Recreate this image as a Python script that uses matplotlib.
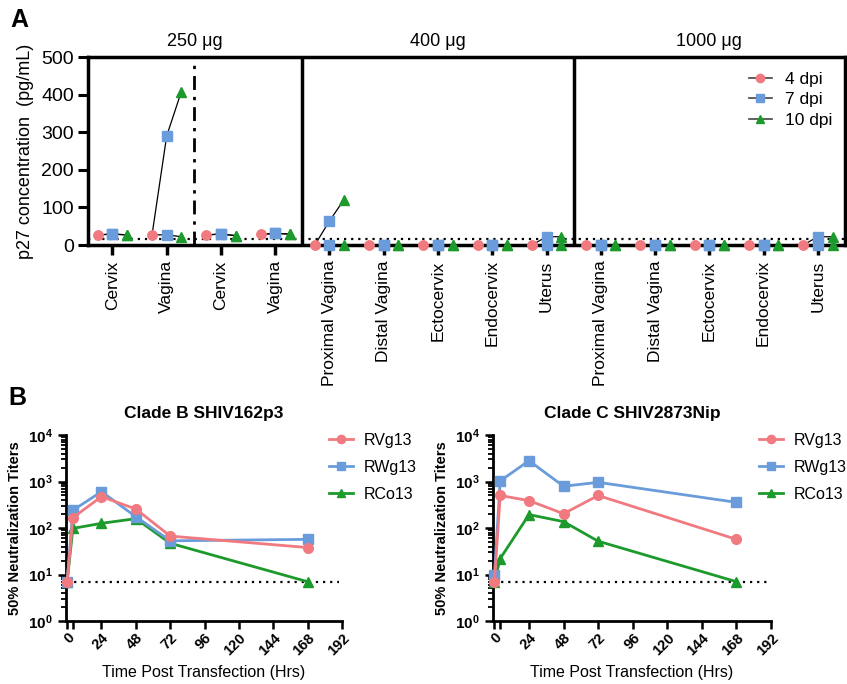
#!/usr/bin/env python
"""p27 tissue levels by dose and neutralization titers after transfection."""

import matplotlib

matplotlib.use("Agg")
import matplotlib.pyplot as plt
from matplotlib.lines import Line2D

plt.rcParams["font.family"] = ["Liberation Sans", "DejaVu Sans"]
plt.rcParams["mathtext.fontset"] = "custom"
plt.rcParams["mathtext.rm"] = "Liberation Sans"
plt.rcParams["mathtext.bf"] = "Liberation Sans:bold"

# ---- panel A data: p27 (pg/mL), two animals per tissue group ----
TISSUES = [
    "Cervix", "Vagina", "Cervix", "Vagina",
    "Proximal Vagina", "Distal Vagina", "Ectocervix", "Endocervix", "Uterus",
    "Proximal Vagina", "Distal Vagina", "Ectocervix", "Endocervix", "Uterus",
]
DOSE_LABELS = ["250 \u03bcg", "400 \u03bcg", "1000 \u03bcg"]
DOSE_EDGES = [-0.45, 3.5, 8.5, 13.5]
DPI_LABELS = ["4 dpi", "7 dpi", "10 dpi"]

ANIMAL1_4DPI = [27, 27, 27, 28, 0, 0, 0, 0, 0, 0, 0, 0, 0, 0]
ANIMAL1_7DPI = [29, 290, 29, 31, 64, 0, 0, 0, 22, 0, 0, 0, 0, 22]
ANIMAL1_10DPI = [27, 408, 25, 29, 121, 0, 0, 0, 22, 0, 0, 0, 0, 22]
ANIMAL2_4DPI = [27, 27, 27, 28, 0, 0, 0, 0, 0, 0, 0, 0, 0, 0]
ANIMAL2_7DPI = [29, 27, 29, 31, 0, 0, 0, 0, 0, 0, 0, 0, 0, 0]
ANIMAL2_10DPI = [27, 22, 25, 29, 0, 0, 0, 0, 0, 0, 0, 0, 0, 0]
P27_LOD = 15

# ---- panel B data: 50% neutralization titers ----
HOURS = [0, 4, 24, 48, 72, 168]
CONSTRUCTS = ["RVg13", "RWg13", "RCo13"]
CLADE_B_RVG13 = [7, 167, 473, 256, 67, 38]
CLADE_B_RWG13 = [7, 240, 605, 175, 53, 57]
CLADE_B_RCO13 = [7, 98, 126, 159, 47, 7]
CLADE_C_RVG13 = [7, 500, 388, 203, 500, 57]
CLADE_C_RWG13 = [10, 1030, 2800, 790, 960, 356]
CLADE_C_RCO13 = [7, 22, 194, 137, 52, 7]
TITER_LOD = 7

RED = "#f07a80"
BLUE = "#6a9cdb"
GREEN = "#1c9a2c"
COLORS = [RED, BLUE, GREEN]
MARKERS = ["o", "s", "^"]


def draw_p27(fig):
    ax = fig.add_axes([88 / 847, 1 - 245 / 684, (845 - 88) / 847, (245 - 57) / 684])
    offsets = [-0.27, 0.0, 0.27]
    animals = [
        (ANIMAL1_4DPI, ANIMAL1_7DPI, ANIMAL1_10DPI),
        (ANIMAL2_4DPI, ANIMAL2_7DPI, ANIMAL2_10DPI),
    ]
    for series in animals:
        for i in range(len(TISSUES)):
            xs = [i + off for off in offsets]
            ys = [values[i] for values in series]
            ax.plot(xs, ys, color="black", linewidth=0.9, zorder=3, clip_on=False)
        for values, off, color, marker in zip(series, offsets, COLORS, MARKERS):
            ax.plot(
                [i + off for i in range(len(TISSUES))],
                values,
                linestyle="none",
                marker=marker,
                markersize=6.5,
                color=color,
                zorder=4,
                clip_on=False,
            )

    ax.axhline(P27_LOD, color="black", linestyle=(0, (1, 2.2)), linewidth=1.6, zorder=2)
    ax.axvline(1.5, color="black", linewidth=2.0, linestyle=(0, (5, 2.5, 1.2, 2.5)))
    for edge in DOSE_EDGES[1:-1]:
        ax.axvline(edge, color="black", linewidth=2.5)

    for label, lo, hi in zip(DOSE_LABELS, DOSE_EDGES[:-1], DOSE_EDGES[1:]):
        ax.text((lo + hi) / 2, 1.035, label, transform=ax.get_xaxis_transform(),
                ha="center", va="bottom", fontsize=13)

    ax.set_xlim(DOSE_EDGES[0], DOSE_EDGES[-1])
    ax.set_ylim(0, 500)
    ax.set_yticks(range(0, 501, 100))
    ax.set_xticks(range(len(TISSUES)), labels=TISSUES, rotation=90, fontsize=12.5)
    ax.tick_params(axis="y", labelsize=14, width=2.2, length=7, pad=3)
    ax.tick_params(axis="x", width=2.5, length=7, pad=4)
    for spine in ax.spines.values():
        spine.set_linewidth(2.5)
    ax.set_ylabel("p27 concentration  (pg/mL)", fontsize=13, labelpad=5)

    handles = [
        Line2D([], [], color="#444444", linewidth=1.2, marker=m, markersize=6,
               markerfacecolor=c, markeredgecolor=c)
        for c, m in zip(COLORS, MARKERS)
    ]
    ax.legend(handles, DPI_LABELS, loc="upper right", bbox_to_anchor=(1.0, 0.985),
              frameon=False, fontsize=12.5, handlelength=1.3, handletextpad=0.8,
              labelspacing=0.3, borderaxespad=0.3)


def draw_titers(fig, rect, title, series, legend_x):
    ax = fig.add_axes(rect)
    for values, color, marker, label, z in zip(series, COLORS, MARKERS, CONSTRUCTS, [5, 4, 3]):
        ax.plot(HOURS, values, color=color, marker=marker, markersize=7, linewidth=2,
                label=label, zorder=z, clip_on=False)
    ax.plot([0, 190], [TITER_LOD, TITER_LOD], color="black", linestyle=(0, (1, 2.2)),
            linewidth=1.6, zorder=2)

    ax.set_yscale("log")
    ax.set_ylim(1, 1e4)
    ax.set_xlim(-1, 192)
    ax.set_yticks([10 ** k for k in range(5)],
                  labels=[r"$\mathbf{10^{%d}}$" % k for k in range(5)])
    ax.set_yticks([m * 10 ** k for k in range(4) for m in range(2, 10)], minor=True)
    ax.set_xticks(range(0, 193, 24))
    ax.set_xticks([4], minor=True)
    ax.set_xticklabels([str(h) for h in range(0, 193, 24)], rotation=45, ha="right",
                       rotation_mode="anchor", fontweight="bold", fontsize=10.5)
    ax.tick_params(axis="y", which="major", labelsize=11, width=1.8, length=6)
    ax.tick_params(axis="y", which="minor", width=1.3, length=3.5)
    ax.tick_params(axis="x", which="both", width=1.8, length=6, pad=1)
    for side in ["top", "right"]:
        ax.spines[side].set_visible(False)
    for side in ["left", "bottom"]:
        ax.spines[side].set_linewidth(2)

    ax.set_title(title, fontsize=12.5, fontweight="bold", pad=12)
    ax.set_ylabel("50% Neutralization Titers", fontsize=10.5, fontweight="bold", labelpad=4)
    ax.set_xlabel("Time Post Transfection (Hrs)", fontsize=11.5)
    ax.xaxis.set_label_coords(0.5, -0.235)
    ax.legend(loc="upper left", bbox_to_anchor=(legend_x, 1.09), frameon=False, fontsize=11.5,
              handlelength=1.5, handletextpad=0.7, labelspacing=0.75, markerscale=0.85)
    return ax


def main():
    fig = plt.figure(figsize=(8.47, 6.84), dpi=100)
    draw_p27(fig)

    draw_titers(
        fig,
        [65.7 / 847, 1 - 621 / 684, (342 - 65.7) / 847, (621 - 435) / 684],
        "Clade B SHIV162p3",
        [CLADE_B_RVG13, CLADE_B_RWG13, CLADE_B_RCO13],
        0.90,
    )
    draw_titers(
        fig,
        [493 / 847, 1 - 621 / 684, (771 - 493) / 847, (621 - 435) / 684],
        "Clade C SHIV2873Nip",
        [CLADE_C_RVG13, CLADE_C_RWG13, CLADE_C_RCO13],
        0.905,
    )

    fig.text(10 / 847, 1 - 20 / 684, "A", fontsize=18, fontweight="bold", va="center")
    fig.text(8 / 847, 1 - 398 / 684, "B", fontsize=18, fontweight="bold", va="center")

    fig.savefig("out.png", dpi=100)
    plt.close(fig)


if __name__ == "__main__":
    main()
